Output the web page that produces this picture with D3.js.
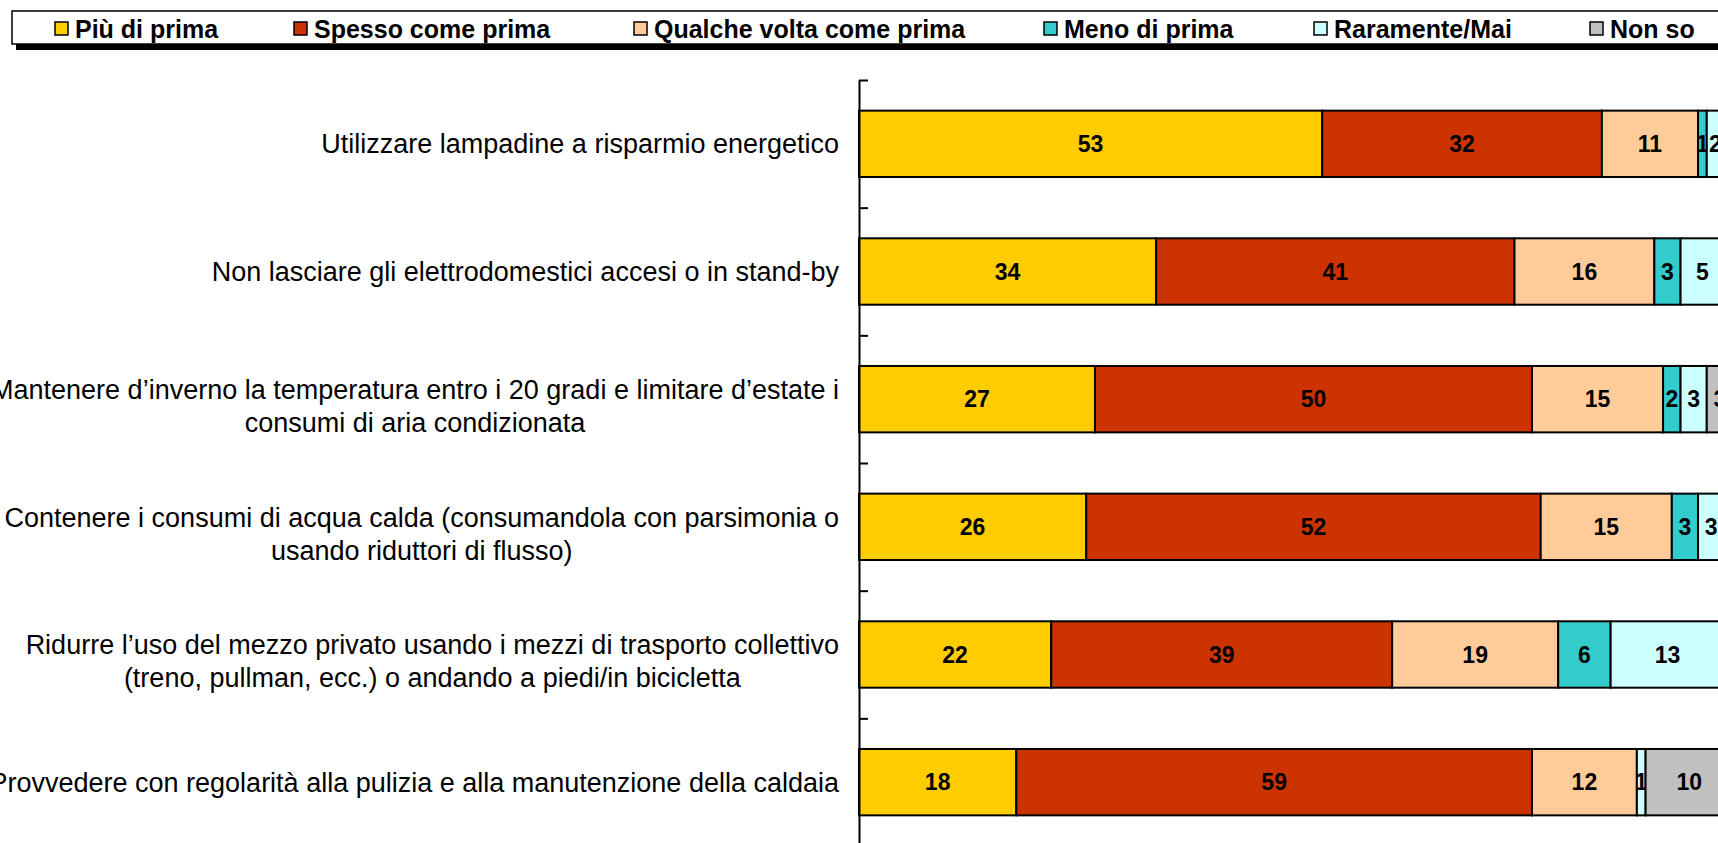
<!DOCTYPE html>
<html>
<head>
<meta charset="utf-8">
<script src="https://cdn.jsdelivr.net/npm/d3@7"></script>
<style>
  body { margin: 0; background: #fff; overflow: hidden; }
  text { font-family: "Liberation Sans", Arial, sans-serif; }
</style>
</head>
<body>
<div id="chart"></div>
<script>
// categories, one entry per bar (lines as wrapped in the original)
var categories = [
  ["Utilizzare lampadine a risparmio energetico"],
  ["Non lasciare gli elettrodomestici accesi o in stand-by"],
  ["Mantenere d\u2019inverno la temperatura entro i 20 gradi e limitare d\u2019estate i", "consumi di aria condizionata"],
  ["Contenere i consumi di acqua calda (consumandola con parsimonia o", "usando riduttori di flusso)"],
  ["Ridurre l\u2019uso del mezzo privato usando i mezzi di trasporto collettivo", "(treno, pullman, ecc.) o andando a piedi/in bicicletta"],
  ["Provvedere con regolarit\u00e0 alla pulizia e alla manutenzione della caldaia"]
];
var seriesNames = ["Più di prima", "Spesso come prima", "Qualche volta come prima", "Meno di prima", "Raramente/Mai", "Non so"];
var seriesColors = ["#FFCC00", "#CC3300", "#FFCC99", "#33CCCC", "#CCFFFF", "#C0C0C0"];

var piuDiPrima      = [53, 34, 27, 26, 22, 18];
var spessoComePrima = [32, 41, 50, 52, 39, 59];
var qualcheVolta    = [11, 16, 15, 15, 19, 12];
var menoDiPrima     = [1, 3, 2, 3, 6, 0];
var raramenteMai    = [2, 5, 3, 3, 13, 1];
var nonSo           = [1, 1, 3, 1, 1, 10];

var width = 1718, height = 843;
var axisX = 859;

var svg = d3.select("#chart").append("svg")
  .attr("width", width)
  .attr("height", height);

// build rows for the stack
var keys = ["s0", "s1", "s2", "s3", "s4", "s5"];
var allSeries = [piuDiPrima, spessoComePrima, qualcheVolta, menoDiPrima, raramenteMai, nonSo];
var rows = categories.map(function(c, i) {
  var r = { idx: i };
  keys.forEach(function(k, j) { r[k] = allSeries[j][i]; });
  return r;
});
var stacked = d3.stack().keys(keys)(rows);

// scales (the plot runs past the right edge, as in the original)
var x = d3.scaleLinear().domain([0, 100]).range([axisX, axisX + 874]);
var y = d3.scaleBand().domain(d3.range(categories.length))
  .range([80, 846]).paddingInner(0.48).paddingOuter(0.24);
var yEdge = d3.scaleLinear().domain([0, categories.length]).range([80, 846]);

// bars
var layers = svg.selectAll(".layer")
  .data(stacked)
  .enter().append("g")
  .attr("class", "layer")
  .attr("fill", function(d, i) { return seriesColors[i]; });

layers.selectAll("rect")
  .data(function(d) { return d.filter(function(s) { return s[1] - s[0] > 0; }); })
  .enter().append("rect")
  .attr("x", function(d) { return x(d[0]); })
  .attr("y", function(d) { return y(d.data.idx); })
  .attr("width", function(d) { return x(d[1]) - x(d[0]); })
  .attr("height", y.bandwidth())
  .attr("stroke", "#000")
  .attr("stroke-width", 2);

// value labels
layers.selectAll(".val")
  .data(function(d) { return d.filter(function(s) { return s[1] - s[0] > 0; }); })
  .enter().append("text")
  .attr("class", "val")
  .attr("x", function(d) { return (x(d[0]) + x(d[1])) / 2; })
  .attr("y", function(d) { return y(d.data.idx) + y.bandwidth() / 2; })
  .attr("dy", "0.36em")
  .attr("text-anchor", "middle")
  .attr("fill", "#000")
  .style("font-weight", "bold")
  .style("font-size", "23px")
  .text(function(d) { return d[1] - d[0]; });

// axis with ticks at category boundaries
var axis = svg.append("g")
  .attr("transform", "translate(" + axisX + ",0)")
  .call(d3.axisRight(yEdge).tickValues(d3.range(categories.length + 1)).tickSize(9).tickSizeOuter(0).tickFormat(""));
axis.select(".domain").attr("stroke", "#000").attr("stroke-width", 2);
axis.selectAll(".tick line").attr("stroke", "#000").attr("stroke-width", 2);

// category labels: right edge at 839, lines centred in the block
var labelRight = 839;
var catG = svg.selectAll(".cat")
  .data(categories)
  .enter().append("text")
  .attr("class", "cat")
  .attr("text-anchor", "middle")
  .attr("fill", "#000")
  .style("font-size", "27px");

catG.each(function(lines, i) {
  var t = d3.select(this);
  var lh = 33;
  var cy = y(i) + y.bandwidth() / 2;
  var y0 = cy - (lines.length - 1) * lh / 2 + (lines.length > 1 ? 7 : 0);
  lines.forEach(function(l, j) {
    t.append("tspan").attr("y", y0 + j * lh).attr("dy", "0.35em").text(l);
  });
  var w = 0;
  t.selectAll("tspan").each(function() { w = Math.max(w, this.getComputedTextLength()); });
  t.selectAll("tspan").attr("x", labelRight - w / 2);
});

// legend
var legendX = [55, 294, 634, 1044, 1314, 1590];
var lg = svg.append("g");
lg.append("rect").attr("x", 16).attr("y", 44).attr("width", width).attr("height", 6).attr("fill", "#000");
lg.append("rect").attr("x", 12).attr("y", 11).attr("width", width).attr("height", 33)
  .attr("fill", "#fff").attr("stroke", "#000").attr("stroke-width", 1.5);

var items = lg.selectAll(".item")
  .data(seriesNames)
  .enter().append("g")
  .attr("class", "item")
  .attr("transform", function(d, i) { return "translate(" + legendX[i] + ",29)"; });
items.append("rect")
  .attr("x", 0).attr("y", -7).attr("width", 13).attr("height", 13)
  .attr("fill", function(d, i) { return seriesColors[i]; })
  .attr("stroke", "#000").attr("stroke-width", 1.5);
items.append("text")
  .attr("x", 20).attr("dy", "0.36em")
  .style("font-weight", "bold").style("font-size", "25px")
  .text(function(d) { return d; });
</script>
</body>
</html>
